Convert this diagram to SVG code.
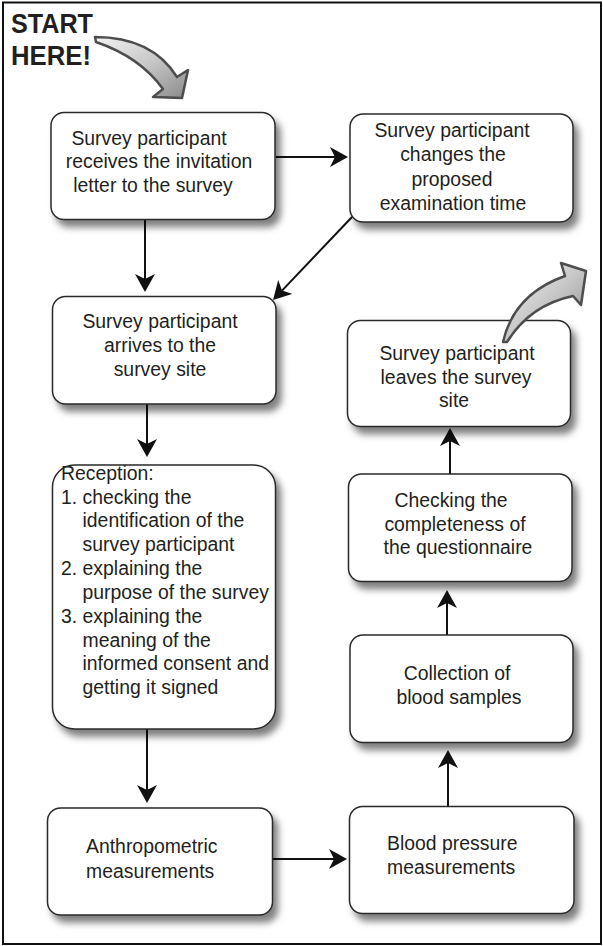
<svg xmlns="http://www.w3.org/2000/svg" width="603" height="946" viewBox="0 0 603 946">
  <style>
    .box { fill: #ffffff; stroke: #2a2a2a; stroke-width: 1.5; filter: url(#shadow); }
    .label { font-family: "Liberation Sans", Arial, sans-serif; font-size: 19.4px; fill: #231f20; }
    .mid { text-anchor: middle; }
    .conn { fill: none; stroke: #111; stroke-width: 2; marker-end: url(#head); }
    .bigarrow { fill: url(#arrowFill); stroke: #4d4d4d; stroke-width: 2.5; stroke-linejoin: round; }
    .title { font-family: "Liberation Sans", Arial, sans-serif; font-size: 27px; font-weight: bold; fill: #231f20; }
  </style>
  <defs>
    <filter id="shadow" x="-10%" y="-10%" width="130%" height="140%">
      <feDropShadow dx="5" dy="7" stdDeviation="3.5" flood-color="#000" flood-opacity="0.5"/>
    </filter>
    <marker id="head" viewBox="0 0 18 20" markerWidth="18" markerHeight="20" refX="5" refY="10" orient="auto" markerUnits="userSpaceOnUse">
      <path d="M0,0 L18,10 L0,20 L5,10 Z" fill="#111"/>
    </marker>
    <linearGradient id="arrowFill" x1="0" y1="0" x2="1" y2="1">
      <stop offset="0" stop-color="#f2f2f2"/>
      <stop offset="0.5" stop-color="#c8c8c8"/>
      <stop offset="1" stop-color="#8a8a8a"/>
    </linearGradient>
  </defs>

  <rect width="603" height="946" fill="#ffffff"/>
  <rect x="3" y="2.5" width="598" height="941.5" fill="none" stroke="#111" stroke-width="2"/>

  <!-- start marker -->
  <g id="start">
    <text class="title" x="11" y="33" textLength="82" lengthAdjust="spacingAndGlyphs">START</text>
    <text class="title" x="11" y="65" textLength="80" lengthAdjust="spacingAndGlyphs">HERE!</text>
    <path class="bigarrow" d="M95,37 Q152,37 177,77 L188,70 L182,98 L153,97 L163,89 Q140,57 96,42 Z"/>
  </g>

  <g id="connectors">
    <path class="conn" d="M276,157 L335,157"/>
    <path class="conn" d="M145,220 L145,279"/>
    <path class="conn" d="M352,217 L282,290.6"/>
    <path class="conn" d="M147,404 L147,444"/>
    <path class="conn" d="M147,729 L147,790"/>
    <path class="conn" d="M273,859 L334,859"/>
    <path class="conn" d="M448,806 L448,763"/>
    <path class="conn" d="M447,635 L447,603"/>
    <path class="conn" d="M450,474 L450,441"/>
  </g>

  <g id="invitation">
    <rect class="box" x="51" y="112.5" width="224" height="107" rx="13"/>
    <text class="label mid" x="149" y="145">Survey participant</text>
    <text class="label mid" x="159" y="168">receives the invitation</text>
    <text class="label mid" x="153" y="192">letter to the survey</text>
  </g>

  <g id="change-time">
    <rect class="box" x="350" y="114" width="223" height="108" rx="13"/>
    <text class="label mid" x="452" y="137">Survey participant</text>
    <text class="label mid" x="453" y="161">changes the</text>
    <text class="label mid" x="452" y="186">proposed</text>
    <text class="label mid" x="453" y="210">examination time</text>
  </g>

  <g id="arrives">
    <rect class="box" x="52.5" y="296.5" width="223.5" height="107.5" rx="13"/>
    <text class="label mid" x="160" y="328">Survey participant</text>
    <text class="label mid" x="160" y="352">arrives to the</text>
    <text class="label mid" x="160" y="376">survey site</text>
  </g>

  <g id="reception">
    <rect class="box" x="52.5" y="465" width="223" height="264" rx="22"/>
    <text class="label" x="61" y="480">Reception:</text>
    <text class="label" x="61" y="503.5">1. checking the</text>
    <text class="label" x="82.5" y="527">identification of the</text>
    <text class="label" x="82.5" y="551">survey participant</text>
    <text class="label" x="61" y="575">2. explaining the</text>
    <text class="label" x="82.5" y="598.5">purpose of the survey</text>
    <text class="label" x="61" y="622.5">3. explaining the</text>
    <text class="label" x="82.5" y="646.5">meaning of the</text>
    <text class="label" x="82.5" y="670">informed consent and</text>
    <text class="label" x="82.5" y="693.5">getting it signed</text>
  </g>

  <g id="anthropometric">
    <rect class="box" x="47.5" y="808" width="225" height="107" rx="13"/>
    <text class="label" x="86" y="853">Anthropometric</text>
    <text class="label" x="86" y="878">measurements</text>
  </g>

  <g id="blood-pressure">
    <rect class="box" x="349.5" y="806.5" width="224.5" height="107" rx="13"/>
    <text class="label" x="387" y="850">Blood pressure</text>
    <text class="label" x="387" y="874">measurements</text>
  </g>

  <g id="blood-samples">
    <rect class="box" x="350" y="635" width="223" height="107.5" rx="13"/>
    <text class="label mid" x="457" y="680">Collection of</text>
    <text class="label mid" x="459" y="703.5">blood samples</text>
  </g>

  <g id="questionnaire">
    <rect class="box" x="348.5" y="474" width="223.5" height="107.5" rx="13"/>
    <text class="label mid" x="451" y="507">Checking the</text>
    <text class="label mid" x="455" y="530.5">completeness of</text>
    <text class="label mid" x="458" y="554">the questionnaire</text>
  </g>

  <g id="leaves">
    <rect class="box" x="347.5" y="320.5" width="223" height="106" rx="13"/>
    <text class="label mid" x="457" y="360">Survey participant</text>
    <text class="label mid" x="456" y="384">leaves the survey</text>
    <text class="label mid" x="454" y="407">site</text>
  </g>

  <!-- exit marker, drawn over the top edge of the last box -->
  <g id="exit">
    <path class="bigarrow" d="M503,342 Q514,294 565,276 L561,263 L586,271 L581,305 L573,296 Q530,305 507,342 Z"/>
  </g>
</svg>
